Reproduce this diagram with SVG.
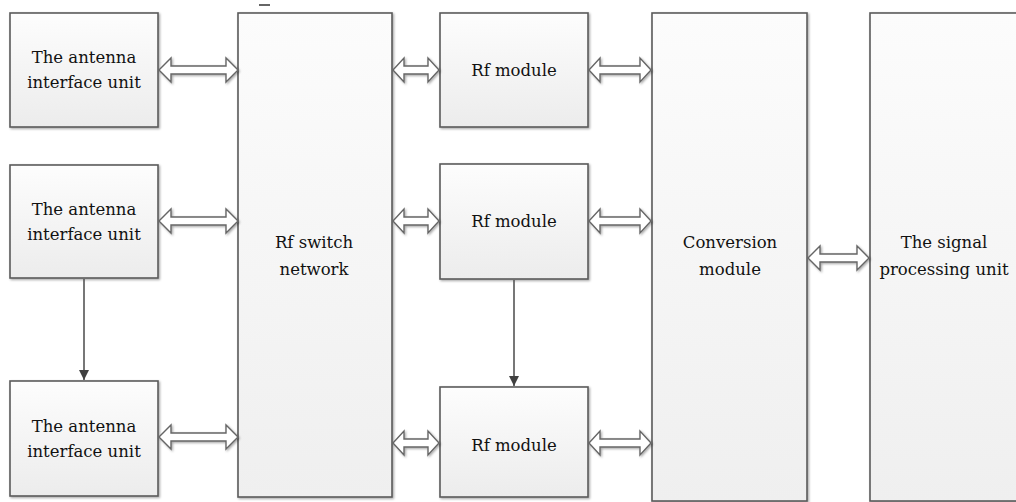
<svg xmlns="http://www.w3.org/2000/svg" width="1016" height="502" viewBox="0 0 1016 502">
<defs>
  <linearGradient id="gBox" x1="0" y1="0" x2="0" y2="1">
    <stop offset="0" stop-color="#fdfdfd"/>
    <stop offset="1" stop-color="#ececec"/>
  </linearGradient>
  <linearGradient id="gTall" x1="0" y1="0" x2="0" y2="1">
    <stop offset="0" stop-color="#fcfcfc"/>
    <stop offset="1" stop-color="#efefef"/>
  </linearGradient>
  <filter id="sh" x="-10%" y="-10%" width="130%" height="130%">
    <feDropShadow dx="1.2" dy="1.2" stdDeviation="1" flood-color="#000" flood-opacity="0.35"/>
  </filter>
  <marker id="ah" viewBox="0 0 10 10" refX="10" refY="5" markerWidth="10" markerHeight="10" markerUnits="userSpaceOnUse" orient="auto">
    <path d="M0,0 L10,5 L0,10 Z" fill="#404040"/>
  </marker>
</defs>
<style>
  .box { fill: url(#gBox); stroke: #5a5a5a; stroke-width: 1.6; filter: url(#sh); }
  .tall { fill: url(#gTall); stroke: #5a5a5a; stroke-width: 1.6; filter: url(#sh); }
  .lbl { font-family: "DejaVu Serif", "Liberation Serif", serif; font-size: 16.5px; fill: #111; text-anchor: middle; }
  .dbl { fill: #ffffff; stroke: #666; stroke-width: 1.4; filter: url(#sh); }
  .down { stroke: #555; stroke-width: 1.6; fill: none; }
</style>
<rect width="1016" height="502" fill="#ffffff"/>
<line x1="259" y1="5" x2="270" y2="5" stroke="#333" stroke-width="1.5"/>

<g id="antenna1">
  <rect class="box" x="10" y="13" width="148" height="114"/>
  <text class="lbl" x="84" y="63">The antenna</text>
  <text class="lbl" x="84" y="88">interface unit</text>
</g>
<g id="antenna2">
  <rect class="box" x="10" y="165" width="148" height="113"/>
  <text class="lbl" x="84" y="215">The antenna</text>
  <text class="lbl" x="84" y="240">interface unit</text>
</g>
<g id="antenna3">
  <rect class="box" x="10" y="381" width="148" height="115"/>
  <text class="lbl" x="84" y="432">The antenna</text>
  <text class="lbl" x="84" y="457">interface unit</text>
</g>
<g id="rfswitch">
  <rect class="tall" x="238" y="13" width="154" height="484"/>
  <text class="lbl" x="314" y="248">Rf switch</text>
  <text class="lbl" x="314" y="275">network</text>
</g>
<g id="rf1">
  <rect class="box" x="440" y="13" width="148" height="114"/>
  <text class="lbl" x="514" y="76">Rf module</text>
</g>
<g id="rf2">
  <rect class="box" x="440" y="164" width="148" height="115"/>
  <text class="lbl" x="514" y="227">Rf module</text>
</g>
<g id="rf3">
  <rect class="box" x="440" y="387" width="148" height="110"/>
  <text class="lbl" x="514" y="451">Rf module</text>
</g>
<g id="conversion">
  <rect class="tall" x="652" y="13" width="155" height="488"/>
  <text class="lbl" x="730" y="248">Conversion</text>
  <text class="lbl" x="730" y="275">module</text>
</g>
<g id="signal">
  <rect class="tall" x="870" y="13" width="160" height="488"/>
  <text class="lbl" x="944" y="248">The signal</text>
  <text class="lbl" x="944" y="275">processing unit</text>
</g>

<g id="connectors">
  <path class="dbl" d="M159,70 L171,58 L171,66 L226,66 L226,58 L238,70 L226,82 L226,74 L171,74 L171,82 Z"/>
  <path class="dbl" d="M159,221 L171,209 L171,217 L226,217 L226,209 L238,221 L226,233 L226,225 L171,225 L171,233 Z"/>
  <path class="dbl" d="M159,437 L171,425 L171,433 L226,433 L226,425 L238,437 L226,449 L226,441 L171,441 L171,449 Z"/>
  <path class="dbl" d="M393,70 L404,58 L404,66 L428,66 L428,58 L439,70 L428,82 L428,74 L404,74 L404,82 Z"/>
  <path class="dbl" d="M393,221 L404,209 L404,217 L428,217 L428,209 L439,221 L428,233 L428,225 L404,225 L404,233 Z"/>
  <path class="dbl" d="M393,443 L404,431 L404,439 L428,439 L428,431 L439,443 L428,455 L428,447 L404,447 L404,455 Z"/>
  <path class="dbl" d="M589,70 L600,58 L600,66 L640,66 L640,58 L651,70 L640,82 L640,74 L600,74 L600,82 Z"/>
  <path class="dbl" d="M589,221 L600,209 L600,217 L640,217 L640,209 L651,221 L640,233 L640,225 L600,225 L600,233 Z"/>
  <path class="dbl" d="M589,443 L600,431 L600,439 L640,439 L640,431 L651,443 L640,455 L640,447 L600,447 L600,455 Z"/>
  <path class="dbl" d="M808,258 L820,246 L820,254 L857,254 L857,246 L869,258 L857,270 L857,262 L820,262 L820,270 Z"/>
  <line class="down" x1="84" y1="279" x2="84" y2="380" marker-end="url(#ah)"/>
  <line class="down" x1="514" y1="280" x2="514" y2="386" marker-end="url(#ah)"/>
</g>
</svg>
